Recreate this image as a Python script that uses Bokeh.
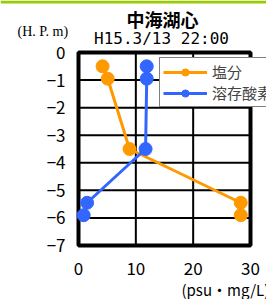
from bokeh.plotting import figure
from bokeh.models import Label, Legend, Range1d, ColumnDataSource
from bokeh.core.properties import value
from bokeh.embed import file_html
from bokeh.resources import INLINE

# Data
salinity_x = [4.2, 5.1, 8.9, 28.3, 28.3]
salinity_y = [-0.5, -0.95, -3.5, -5.45, -5.9]
do_x = [11.9, 11.9, 11.7, 1.5, 0.9]
do_y = [-0.5, -0.95, -3.5, -5.45, -5.9]
x_ticks = [0, 10, 20, 30]
x_tick_labels = ["0", "10", "20", "30"]
y_ticks = [0, -1, -2, -3, -4, -5, -6, -7]
y_tick_labels = ["0", "−1", "−2", "−3", "−4", "−5", "−6", "−7"]
title_text = "中海湖心"
subtitle_text = "H15.3/13 22:00"
y_unit = "(H. P. m)"
x_unit = "(psu・mg/L)"
series_names = ["塩分", "溶存酸素"]

ORANGE = "#ff9900"
BLUE = "#3366ff"
GREEN = "#99cc00"
FONT = "Noto Sans CJK JP"

W, H = 266, 299
X0, X1 = x_ticks[0], x_ticks[-1]
Y0, Y1 = y_ticks[-1], y_ticks[0]

# pixel scale of plot box: x 78..250, y 52..245
PX_X = 172 / (X1 - X0)
PX_Y = 193 / (Y1 - Y0)

def dx(px):
    return X0 + (px - 78) / PX_X

def dy(py):
    return Y1 - (py - 52) / PX_Y

p = figure(width=W, height=H, output_backend="svg", toolbar_location=None,
           x_range=Range1d(dx(0), dx(W)), y_range=Range1d(dy(H), dy(0)),
           min_border=0, x_axis_type=None, y_axis_type=None)
p.background_fill_color = "white"
p.border_fill_color = "white"
p.outline_line_color = None
p.xgrid.visible = False
p.ygrid.visible = False

# green top bar
p.quad(left=[dx(0)], right=[dx(W)], bottom=[dy(3)], top=[dy(0)],
       fill_color=GREEN, line_color=None)

# grid lines from tick arrays
inner_x = x_ticks[1:-1]
inner_y = y_ticks[1:-1]
p.segment(x0=inner_x, x1=inner_x, y0=[Y0] * len(inner_x), y1=[Y1] * len(inner_x),
          line_color="black", line_width=2)
p.segment(x0=[X0] * len(inner_y), x1=[X1] * len(inner_y), y0=inner_y, y1=inner_y,
          line_color="black", line_width=2)
# frame box
p.quad(left=[X0], right=[X1], bottom=[Y0], top=[Y1], fill_color=None,
       line_color="black", line_width=4)

# tick labels
ysrc = ColumnDataSource(dict(x=[dx(65)] * len(y_ticks), y=y_ticks, t=y_tick_labels))
p.text(x="x", y="y", text="t", source=ysrc, text_align="right", text_baseline="middle",
       text_font=value(FONT), text_font_size="17px", text_color="black")
xsrc = ColumnDataSource(dict(x=x_ticks, y=[dy(268)] * len(x_ticks), t=x_tick_labels))
p.text(x="x", y="y", text="t", source=xsrc, text_align="center", text_baseline="middle",
       text_font=value(FONT), text_font_size="17px", text_color="black")

l1 = p.line(salinity_x, salinity_y, line_color=ORANGE, line_width=3)
s1 = p.scatter(salinity_x, salinity_y, size=13, color=ORANGE)
l2 = p.line(do_x, do_y, line_color=BLUE, line_width=3)
s2 = p.scatter(do_x, do_y, size=13, color=BLUE)

legend = Legend(items=[(series_names[0], [l1, s1]), (series_names[1], [l2, s2])],
                location=(159, H - 107))
legend.label_text_font = FONT
legend.label_text_font_size = "15px"
legend.glyph_width = 44
legend.glyph_height = 18
legend.label_height = 18
legend.label_standoff = 5
legend.spacing = 0
legend.padding = 3
legend.margin = 0
legend.border_line_color = "black"
legend.border_line_width = 1
legend.background_fill_alpha = 1
p.add_layout(legend, "center")

p.add_layout(Label(x=dx(162), y=dy(18), text=title_text, text_align="center",
                   text_baseline="middle", text_font=FONT, text_font_size="18px",
                   text_font_style="bold", text_color="black"))
p.add_layout(Label(x=dx(161), y=dy(38), text=subtitle_text, text_align="center",
                   text_baseline="middle", text_font="DejaVu Sans Mono",
                   text_font_size="16px", text_color="black"))
p.add_layout(Label(x=dx(17), y=dy(31), text=y_unit, text_align="left",
                   text_baseline="middle", text_font="Liberation Serif",
                   text_font_size="14px", text_color="black"))
p.add_layout(Label(x=dx(181), y=dy(289), text=x_unit, text_align="left",
                   text_baseline="middle", text_font=FONT, text_font_size="15px",
                   text_color="black"))

open("out.html", "w").write(file_html(p, INLINE))
